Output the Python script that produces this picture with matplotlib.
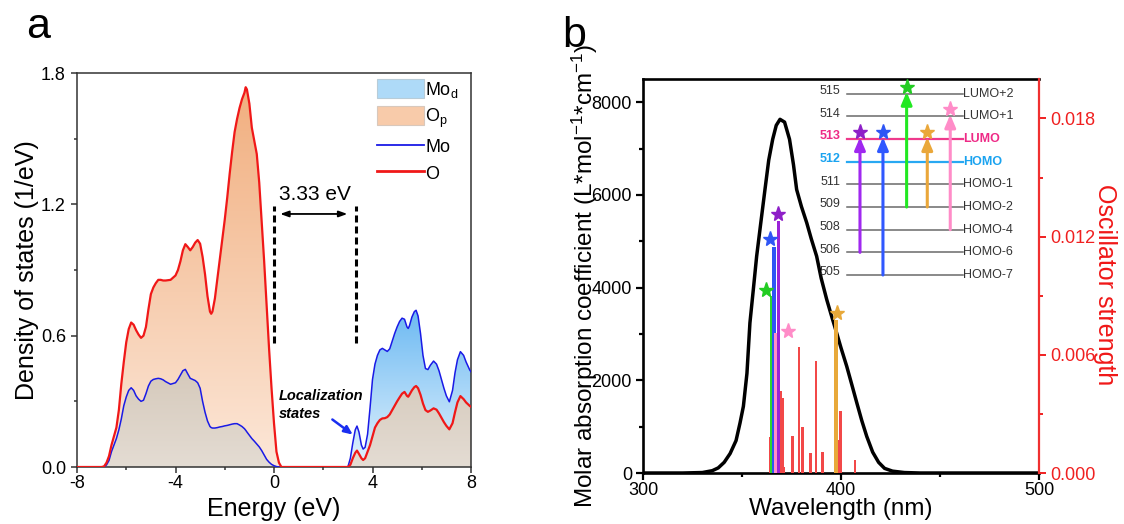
import numpy as np
import matplotlib
matplotlib.use("Agg")
import matplotlib.pyplot as plt
from matplotlib.colors import LinearSegmentedColormap
from matplotlib.patches import Patch
from matplotlib.lines import Line2D
from matplotlib.ticker import MultipleLocator, FormatStrFormatter

plt.rcParams['font.family'] = ['Liberation Sans', 'DejaVu Sans']
plt.rcParams['axes.unicode_minus'] = False
plt.rcParams['mathtext.fontset'] = 'custom'
plt.rcParams['mathtext.rm'] = 'Liberation Sans'
plt.rcParams['mathtext.it'] = 'Liberation Sans:italic'
plt.rcParams['mathtext.bf'] = 'Liberation Sans:bold'

# ---------------- Panel a data: DOS ----------------
energy = [-8.0, -7.0, -6.9, -6.8, -6.7, -6.6, -6.5, -6.4, -6.3, -6.2, -6.1, -6.0, -5.9, -5.8,
          -5.7, -5.6, -5.5, -5.4, -5.3, -5.2, -5.1, -5.0, -4.9, -4.8, -4.7, -4.6, -4.5, -4.4,
          -4.2, -4.0, -3.9, -3.8, -3.7, -3.6, -3.5, -3.4, -3.3, -3.2, -3.1, -3.0, -2.9, -2.8,
          -2.7, -2.6, -2.55, -2.5, -2.4, -2.3, -2.2, -2.1, -2.0, -1.9, -1.8, -1.7, -1.6, -1.5,
          -1.4, -1.3, -1.2, -1.15, -1.1, -1.0, -0.9, -0.8, -0.7, -0.6, -0.5, -0.4, -0.3, -0.2,
          -0.1, 0.0, 0.1, 0.2, 0.3,
          3.0, 3.1, 3.2, 3.3, 3.37, 3.45, 3.55, 3.62, 3.7, 3.8, 3.9, 4.0, 4.1, 4.2, 4.3, 4.4,
          4.5, 4.6, 4.7, 4.8, 4.9, 5.0, 5.1, 5.2, 5.3, 5.4, 5.45, 5.5, 5.6, 5.7, 5.77, 5.85,
          5.95, 6.05, 6.15, 6.25, 6.35, 6.48, 6.6, 6.7, 6.8, 6.9, 7.0, 7.12, 7.25, 7.35, 7.45,
          7.57, 7.7, 7.8, 7.95, 8.0]
dos_O = [0, 0, 0.003, 0.02, 0.05, 0.10, 0.14, 0.18, 0.26, 0.38, 0.48, 0.57, 0.63, 0.66,
         0.65, 0.625, 0.605, 0.59, 0.60, 0.64, 0.72, 0.79, 0.82, 0.84, 0.855, 0.855, 0.852, 0.852,
         0.855, 0.875, 0.90, 0.94, 0.99, 1.018, 1.005, 0.99, 1.005, 1.025, 1.037, 1.02, 0.96, 0.88,
         0.78, 0.71, 0.70, 0.71, 0.77, 0.86, 0.95, 1.04, 1.13, 1.23, 1.34, 1.44, 1.53, 1.59,
         1.64, 1.68, 1.71, 1.735, 1.725, 1.66, 1.55, 1.49, 1.43, 1.30, 1.12, 0.94, 0.74, 0.54,
         0.36, 0.20, 0.07, 0.02, 0.0,
         0.0, 0.01, 0.04, 0.065, 0.075, 0.06, 0.04, 0.032, 0.04, 0.07, 0.10, 0.14, 0.18, 0.20, 0.215, 0.222,
         0.223, 0.228, 0.24, 0.26, 0.28, 0.30, 0.318, 0.335, 0.343, 0.325, 0.321, 0.33, 0.35, 0.365, 0.37, 0.36,
         0.33, 0.29, 0.26, 0.252, 0.258, 0.268, 0.262, 0.245, 0.225, 0.205, 0.188, 0.172, 0.20, 0.25, 0.295,
         0.324, 0.31, 0.295, 0.279, 0.275]
dos_Mo = [0, 0, 0.0, 0.01, 0.03, 0.07, 0.10, 0.13, 0.17, 0.22, 0.28, 0.32, 0.35, 0.362,
          0.35, 0.325, 0.31, 0.30, 0.305, 0.335, 0.37, 0.392, 0.40, 0.403, 0.405, 0.403, 0.398, 0.39,
          0.378, 0.385, 0.40, 0.42, 0.44, 0.446, 0.425, 0.405, 0.40, 0.395, 0.385, 0.36, 0.30, 0.25,
          0.21, 0.185, 0.18, 0.178, 0.178, 0.18, 0.183, 0.185, 0.188, 0.19, 0.193, 0.196, 0.198, 0.198,
          0.192, 0.185, 0.175, 0.168, 0.16, 0.145, 0.13, 0.118, 0.105, 0.092, 0.075, 0.055, 0.035, 0.022,
          0.012, 0.006, 0.002, 0.0, 0.0,
          0.0, 0.04, 0.11, 0.17, 0.187, 0.16, 0.10, 0.082, 0.09, 0.15, 0.27, 0.40, 0.47, 0.51, 0.535, 0.542,
          0.535, 0.528, 0.54, 0.575, 0.61, 0.64, 0.665, 0.68, 0.675, 0.64, 0.633, 0.645, 0.685, 0.71, 0.716, 0.69,
          0.61, 0.51, 0.45, 0.445, 0.465, 0.484, 0.47, 0.44, 0.40, 0.36, 0.325, 0.298, 0.35, 0.43, 0.49,
          0.527, 0.51, 0.48, 0.443, 0.435]
band_gap_edges = [0.0, 3.33]
gap_text = "3.33 eV"

# ---------------- Panel b data: absorption ----------------
wavelength = [300, 320, 330, 335, 338, 341, 344, 347, 349, 350.7, 352.5, 354, 355.7, 357.4,
              359.5, 361.6, 363.5, 365.5, 367.3, 369.2, 371.5, 374, 376, 377.6, 380, 382.7,
              385, 387.7, 390, 392.8, 395, 397.8, 400, 402.9, 405.5, 408, 410.5, 413, 416,
              419, 422, 426, 432, 440, 500]
absorbance = [0, 0, 10, 50, 110, 230, 420, 700, 1079, 1438, 2150, 3238, 3950, 4676,
              5400, 6115, 6750, 7200, 7500, 7630, 7570, 7200, 6650, 6115, 5750, 5397,
              5050, 4676, 4200, 3741, 3420, 3022, 2700, 2301, 1900, 1511, 1130, 790, 450,
              230, 100, 40, 10, 0, 0]

# oscillator strengths (red sticks)
stick_wl = [364.5, 369.5, 370.4, 371.0, 375.4, 378.8, 380.6, 384.7, 387.4, 390.6, 398.8, 399.8, 407.1]
stick_f = [0.00185, 0.00417, 0.0038, 0.0003, 0.0019, 0.0064, 0.00233, 0.0010, 0.00566, 0.00108,
           0.00168, 0.00317, 0.00066]

# highlighted transitions (colored sticks + stars)
hl_colors = ['#2ED62E', '#2E55F5', '#FF90C8', '#9A22D8', '#E8A93A']
hl_star_colors = ['#22CC22', '#2E55F5', '#FF8CC8', '#8E1FC8', '#E8A93A']
hl_wl = [365.2, 366.2, 367.2, 368.4, 397.5]
hl_f = [0.00901, 0.01149, 0.0071, 0.01279, 0.00775]
star_wl = [362.3, 364.2, 373.4, 368.3, 397.8]
star_f = [0.00928, 0.01186, 0.00719, 0.01313, 0.00813]

# orbital energy-level diagram
orbital_ids = ['515', '514', '513', '512', '511', '509', '508', '506', '505']
orbital_names = ['LUMO+2', 'LUMO+1', 'LUMO', 'HOMO', 'HOMO-1', 'HOMO-2', 'HOMO-4', 'HOMO-6', 'HOMO-7']
trans_from = ['506', '505', '509', '509', '508']
trans_to = ['513', '513', '515', '513', '514']
trans_colors = ['#A028F0', '#3058FF', '#22E822', '#EAA73A', '#FF8CC8']
trans_star_colors = ['#8E1FC8', '#2E55F5', '#22CC22', '#EAA73A', '#FF8CC8']

# ================= Figure =================
fig = plt.figure(figsize=(11.24, 5.24), dpi=100)
W, H = 1124, 524
axa = fig.add_axes([77 / W, 1 - 467 / H, 394 / W, 394 / H])
axb = fig.add_axes([643 / W, 1 - 473 / H, 396 / W, 394 / H])

E = np.array(energy)
O = np.array(dos_O)
Mo = np.array(dos_Mo)


def grad_fill(ax, x, y, colors, ytop, z):
    coll = ax.fill_between(x, 0, y, facecolor='none', edgecolor='none', lw=0)
    path = coll.get_paths()[0]
    cmap = LinearSegmentedColormap.from_list('g', colors)
    g = np.linspace(0, 1, 256).reshape(-1, 1)
    im = ax.imshow(g, extent=(x.min(), x.max(), 0, ytop), origin='lower', aspect='auto',
                   cmap=cmap, zorder=z, interpolation='bilinear')
    im.set_clip_path(path, transform=ax.transData)


grad_fill(axa, E, O, ['#FCE7D8', '#F1AE7E'], 1.75, 1.0)
grad_fill(axa, E, Mo, ['#E2F2FD', '#6CB9F2'], 0.72, 1.1)
grad_fill(axa, E, np.minimum(O, Mo), ['#E4DCD3', '#D5C9BB'], 0.45, 1.2)

axa.plot(E, Mo, color='#1A1AE6', lw=1.1, zorder=3)
axa.plot(E, O, color='#F01818', lw=1.6, zorder=3)

axa.set_xlim(-8, 8)
axa.set_ylim(0, 1.8)
axa.xaxis.set_major_locator(MultipleLocator(4))
axa.xaxis.set_minor_locator(MultipleLocator(2))
axa.yaxis.set_major_locator(MultipleLocator(0.6))
axa.yaxis.set_minor_locator(MultipleLocator(0.3))
axa.yaxis.set_major_formatter(FormatStrFormatter('%.1f'))
axa.tick_params(which='both', direction='out', labelsize=13, width=1.1, color='#333333', pad=4)
axa.tick_params(axis='x', pad=2)
axa.tick_params(which='major', length=4)
axa.tick_params(which='minor', length=2.5)
for s in axa.spines.values():
    s.set_linewidth(1.1)
    s.set_color('#333333')
axa.set_xlabel('Energy (eV)', fontsize=18)
axa.xaxis.label.set_va('center')
axa.xaxis.set_label_coords(0.5, -0.106)
axa.set_ylabel('Density of states (1/eV)', fontsize=18)
axa.yaxis.label.set_va('center')
axa.yaxis.set_label_coords(-0.127, 0.5)

# gap markers
for xe in band_gap_edges:
    axa.plot([xe, xe], [0.568, 1.194], color='black', lw=2.2, ls=(0, (2.3, 1.3)), zorder=4)
axa.annotate('', xy=(band_gap_edges[1] - 0.35, 1.156), xytext=(band_gap_edges[0] + 0.25, 1.156),
             arrowprops=dict(arrowstyle='<|-|>,head_length=0.5,head_width=0.18', color='black',
                             lw=1.3, shrinkA=0, shrinkB=0), zorder=4)
axa.text(sum(band_gap_edges) / 2, 1.245, gap_text, ha='center', va='center', fontsize=15)
axa.text(0.19, 0.324, 'Localization', fontsize=10.5, fontweight='bold', fontstyle='italic',
         ha='left', va='center')
axa.text(0.19, 0.240, 'states', fontsize=10.5, fontweight='bold', fontstyle='italic',
         ha='left', va='center')
axa.annotate('', xy=(3.2, 0.148), xytext=(2.37, 0.217),
             arrowprops=dict(arrowstyle='-|>,head_length=0.5,head_width=0.22', color='#1A2EF0',
                             lw=1.8, shrinkA=0, shrinkB=0), zorder=4)

handles = [Patch(facecolor='#AEDAF8', edgecolor='#B8CCD8', lw=0.8),
           Patch(facecolor='#F8CBAA', edgecolor='#D8C8BC', lw=0.8),
           Line2D([], [], color='#1A1AE6', lw=1.3),
           Line2D([], [], color='#F01818', lw=2.0)]
axa.legend(handles, ['Mo$_\\mathrm{d}$', 'O$_\\mathrm{p}$', 'Mo', 'O'], loc='upper left',
           bbox_to_anchor=(0.762, 0.985), frameon=False, fontsize=13, handlelength=2.6,
           handleheight=1.25, handletextpad=0.05, labelspacing=0.38, borderpad=0, borderaxespad=0)

# ---------------- Panel b ----------------
axb.plot(wavelength, absorbance, color='black', lw=2.5, zorder=3)
axb.set_xlim(300, 500)
axb.set_ylim(0, 8500)
axb.xaxis.set_major_locator(MultipleLocator(100))
axb.xaxis.set_minor_locator(MultipleLocator(50))
axb.yaxis.set_major_locator(MultipleLocator(2000))
axb.yaxis.set_minor_locator(MultipleLocator(1000))
axb.tick_params(which='both', direction='out', labelsize=13, width=1.6, pad=3)
axb.tick_params(axis='x', pad=1.5)
axb.tick_params(which='major', length=5)
axb.tick_params(which='minor', length=3)
for k in ['left', 'bottom', 'top']:
    axb.spines[k].set_linewidth(1.9)
axb.spines['right'].set_visible(False)
axb.set_xlabel('Wavelength (nm)', fontsize=17.5)
axb.xaxis.label.set_va('center')
axb.xaxis.set_label_coords(0.5, -0.092)
axb.set_ylabel('Molar absorption coefficient (L*mol$^{-1}$*cm$^{-1}$)', fontsize=17.5)
axb.yaxis.label.set_va('center')
axb.yaxis.set_label_coords(-0.147, 0.5)

axb2 = axb.twinx()
axb2.set_ylim(0, 0.02)
axb2.bar(stick_wl, stick_f, width=1.3, color='#F24848', zorder=2)
for wl, f, c in zip(hl_wl, hl_f, hl_colors):
    axb2.bar([wl], [f], width=1.7, color=c, zorder=3)
for wl, f, c in zip(star_wl, star_f, hl_star_colors):
    axb2.plot([wl], [f], marker='*', ms=11, color=c, ls='none', zorder=4, clip_on=False)
axb2.yaxis.set_major_locator(MultipleLocator(0.006))
axb2.yaxis.set_minor_locator(MultipleLocator(0.003))
axb2.yaxis.set_major_formatter(FormatStrFormatter('%.3f'))
axb2.tick_params(which='both', direction='out', labelsize=13, width=1.4, colors='#F02020', pad=3)
axb2.tick_params(which='major', length=5)
axb2.tick_params(which='minor', length=3)
for k in ['left', 'bottom', 'top']:
    axb2.spines[k].set_visible(False)
axb2.spines['right'].set_color('#F03030')
axb2.spines['right'].set_linewidth(1.6)
axb2.set_ylabel('Oscillator strength', fontsize=18, color='#F01818', rotation=270)
axb2.yaxis.label.set_va('center')
axb2.yaxis.set_label_coords(1.167, 0.477)

# energy-level inset
axi = axb.inset_axes([0.516, 0.5025, 0.293, 0.46])
axi.set_xlim(0, 1)
axi.set_ylim(0, len(orbital_ids) - 1)
axi.axis('off')
axi.patch.set_alpha(0)
lvl = {oid: len(orbital_ids) - 1 - i for i, oid in enumerate(orbital_ids)}
for oid, name in zip(orbital_ids, orbital_names):
    y = lvl[oid]
    if name == 'LUMO':
        lc, tc, fw, lw = '#EE3A8C', '#EE2A86', 'bold', 1.6
    elif name == 'HOMO':
        lc, tc, fw, lw = '#28A8F2', '#1AA3F0', 'bold', 1.6
    else:
        lc, tc, fw, lw = '#6A6A6A', '#333333', 'normal', 1.1
    axi.plot([0, 1], [y, y], color=lc, lw=lw, zorder=1, clip_on=False)
    axi.text(-0.06, y + 0.12, oid, ha='right', va='center', fontsize=9, color=tc, fontweight=fw)
    axi.text(1.0, y, name, ha='left', va='center', fontsize=9, color=tc, fontweight=fw)

trans_x = [0.109, 0.307, 0.511, 0.689, 0.887]
for x, a, b, c, sc in zip(trans_x, trans_from, trans_to, trans_colors, trans_star_colors):
    axi.annotate('', xy=(x, lvl[b] + 0.08), xytext=(x, lvl[a]),
                 arrowprops=dict(arrowstyle='-|>,head_length=0.75,head_width=0.32', color=c,
                                 lw=2.2, shrinkA=0, shrinkB=0), zorder=3, annotation_clip=False)
    axi.plot([x], [lvl[b] + 0.32], marker='*', ms=11, color=sc, ls='none', zorder=4, clip_on=False)

fig.text(26 / W, 1 - 38 / H, 'a', fontsize=31, va='baseline', ha='left')
fig.text(562 / W, 1 - 47 / H, 'b', fontsize=31, va='baseline', ha='left')

fig.savefig('out.png', dpi=100)
